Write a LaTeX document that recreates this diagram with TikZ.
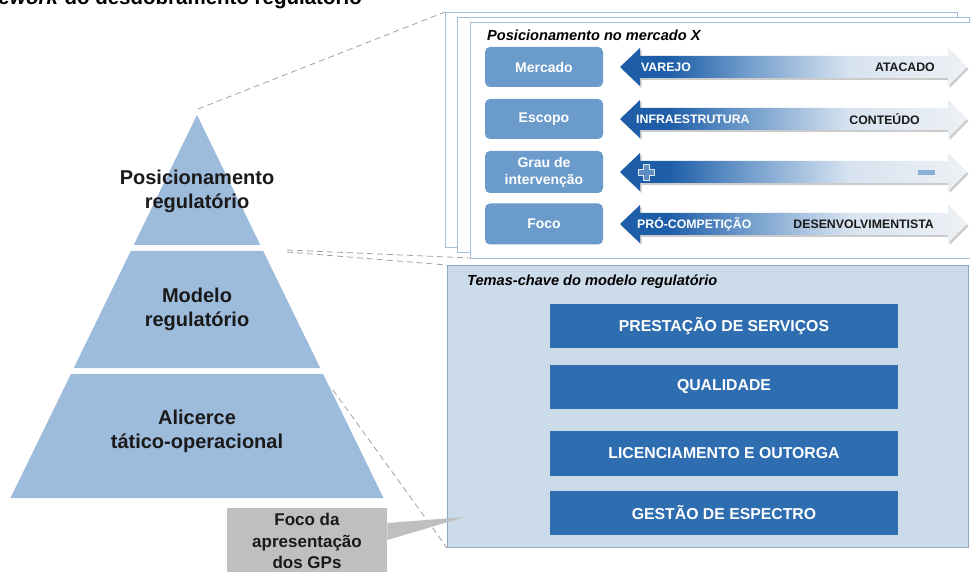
\documentclass[tikz,border=0pt]{standalone}
\usepackage{fontspec}
\setmainfont{Liberation Sans}
\definecolor{pyr}{HTML}{9DBBDB}
\definecolor{lab}{HTML}{6A9BCB}
\definecolor{barc}{HTML}{2E6DB0}
\definecolor{lowfill}{HTML}{CCDBEA}
\definecolor{lowedge}{HTML}{8FA9C2}
\definecolor{panedge}{HTML}{A3BEDB}
\definecolor{callgray}{HTML}{BFBFBF}
\definecolor{dashc}{HTML}{A0A0A0}
\definecolor{ardk}{HTML}{1E5EA8}
\definecolor{armd}{HTML}{6F9BCB}
\definecolor{arlt}{HTML}{D7E3F0}
\definecolor{arend}{HTML}{EEF1F5}
\definecolor{txtd}{HTML}{1A1A1A}
\pgfdeclarehorizontalshading{arrowshade}{100bp}{color(0bp)=(ardk); color(32bp)=(ardk); color(43bp)=(armd); color(58bp)=(arlt); color(75bp)=(arend); color(100bp)=(arend)}
\newcommand{\DblArrow}[1]{%
  \fill[black!45,opacity=.45,shift={(1.5,2)}] (620,#1) -- (640,#1-19) -- (640,#1-11) -- (948,#1-11) -- (948,#1-19) -- (967,#1) -- (948,#1+19) -- (948,#1+11) -- (640,#1+11) -- (640,#1+19) -- cycle;
  \shade[shading=arrowshade] (620,#1) -- (640,#1-19) -- (640,#1-11) -- (948,#1-11) -- (948,#1-19) -- (967,#1) -- (948,#1+19) -- (948,#1+11) -- (640,#1+11) -- (640,#1+19) -- cycle;}
\begin{document}
\begin{tikzpicture}[x=1pt,y=-1pt,
  pyrtext/.style={font=\fontsize{20}{24}\selectfont\bfseries, text=txtd, align=center, inner sep=0pt},
  panel/.style={draw=panedge, line width=0.9pt, fill=white, anchor=north west, inner sep=0pt},
  labbox/.style={fill=lab, rounded corners=5pt, minimum width=118pt, inner sep=0pt, text=white, font=\fontsize{14}{17}\selectfont\bfseries, align=center},
  lefttxt/.style={anchor=west, inner sep=0pt, text=white, font=\fontsize{12.3}{14}\selectfont\bfseries},
  righttxt/.style={anchor=east, inner sep=0pt, text=txtd, font=\fontsize{12.3}{14}\selectfont\bfseries},
  barbox/.style={fill=barc, minimum width=348pt, inner sep=0pt, text=white, font=\fontsize{15.8}{18}\selectfont\bfseries},
  dashln/.style={draw=dashc, line width=0.8pt, dash pattern=on 6pt off 4pt},
  heading/.style={anchor=west, inner sep=0pt, text=black, font=\fontsize{14.6}{17}\selectfont\bfseries\itshape}
]
\useasboundingbox (0,0) rectangle (970,572);

% top title (cut off by the page edge, as in the reference)
\node[anchor=base east, inner sep=0pt, font=\fontsize{20.5}{24}\selectfont\bfseries, text=black] (title) at (362,5) {\textit{Framework} do desdobramento regulatório};

% pyramid
\coordinate (apex) at (197,115);
\fill[pyr] (apex) -- (260.3,245) -- (133.7,245) -- cycle;
\fill[pyr] (130.8,251) -- (263.2,251) -- (320.2,368) -- (73.8,368) -- cycle;
\fill[pyr] (70.9,374) -- (323.1,374) -- (383.5,498) -- (10.5,498) -- cycle;
\node[pyrtext] (p1) at (197,191) {Posicionamento\\regulatório};
\node[pyrtext] (p2) at (197,309) {Modelo\\regulatório};
\node[pyrtext] (p3) at (197,431) {Alicerce\\tático-operacional};

\coordinate (d1s) at (198,109);
\coordinate (d2s) at (287,250);
\coordinate (d3s) at (287,252);
\coordinate (d4s) at (333,390);

% panels
\node[panel, minimum width=512pt, minimum height=235pt] (pback) at (445,12) {};
\draw[dashln] (d1s) -- (pback.north west);
\draw[dashln] (d2s) -- (470,258);
\node[panel, minimum width=512pt, minimum height=235pt] (pmid) at (457,17) {};
\node[panel, minimum width=520pt, minimum height=236pt] (pfront) at (470,22) {};
\node[heading] (h1) at (487,35) {Posicionamento no mercado X};

\node[labbox, minimum height=40pt] (l1) at (544,67) {Mercado};
\node[labbox, minimum height=40pt] (l2) at (544,119) {Escopo};
\node[labbox, minimum height=42pt] (l3) at (544,172) {Grau de\\intervenção};
\node[labbox, minimum height=41pt] (l4) at (544,224) {Foco};

\DblArrow{67}
\DblArrow{119}
\DblArrow{172}
\DblArrow{224}
\node[lefttxt] (a1l) at (641,67) {VAREJO};
\node[righttxt] (a1r) at (935,67) {ATACADO};
\node[lefttxt] (a2l) at (636,119) {INFRAESTRUTURA};
\node[righttxt] (a2r) at (920,119) {CONTEÚDO};
\node[lefttxt] (a4l) at (637,224) {PRÓ-COMPETIÇÃO};
\node[righttxt] (a4r) at (934,224) {DESENVOLVIMENTISTA};
\draw[white!85!ardk, line width=1pt, fill=ardk!70!white] (643,165) -- (649,165) -- (649,170) -- (654,170) -- (654,176) -- (649,176) -- (649,181) -- (643,181) -- (643,176) -- (638,176) -- (638,170) -- (643,170) -- cycle;
\fill[armd!80!white] (918,170) rectangle (935,175);

% lower box
\node[draw=lowedge, line width=0.9pt, fill=lowfill, anchor=north west, minimum width=521pt, minimum height=282pt, inner sep=0pt] (lowbox) at (447,265) {};
\draw[dashln] (d3s) -- (lowbox.north west);
\draw[dashln] (d4s) -- (lowbox.south west);
\node[heading] (h2) at (467,282) {Temas-chave do modelo regulatório};
\node[barbox, minimum height=44pt] (b1) at (724,326) {PRESTAÇÃO DE SERVIÇOS};
\node[barbox, minimum height=44pt] (b2) at (724,387) {QUALIDADE};
\node[barbox, minimum height=45pt] (b3) at (724,453.5) {LICENCIAMENTO E OUTORGA};
\node[barbox, minimum height=44pt] (b4) at (724,513) {GESTÃO DE ESPECTRO};

% callout
\node[fill=callgray, anchor=north west, minimum width=160pt, minimum height=70pt, inner sep=0pt] (cbox) at (227,508) {};
\coordinate (ctip) at (465,517);
\fill[callgray] (cbox.north east |- 0,523) -- (ctip) -- (cbox.north east |- 0,540) -- cycle;
\node[font=\fontsize{17}{21.5}\selectfont\bfseries, text=txtd, align=center, inner sep=0pt] (ctext) at (307,541) {Foco da\\apresentação\\dos GPs};
\end{tikzpicture}
\end{document}
